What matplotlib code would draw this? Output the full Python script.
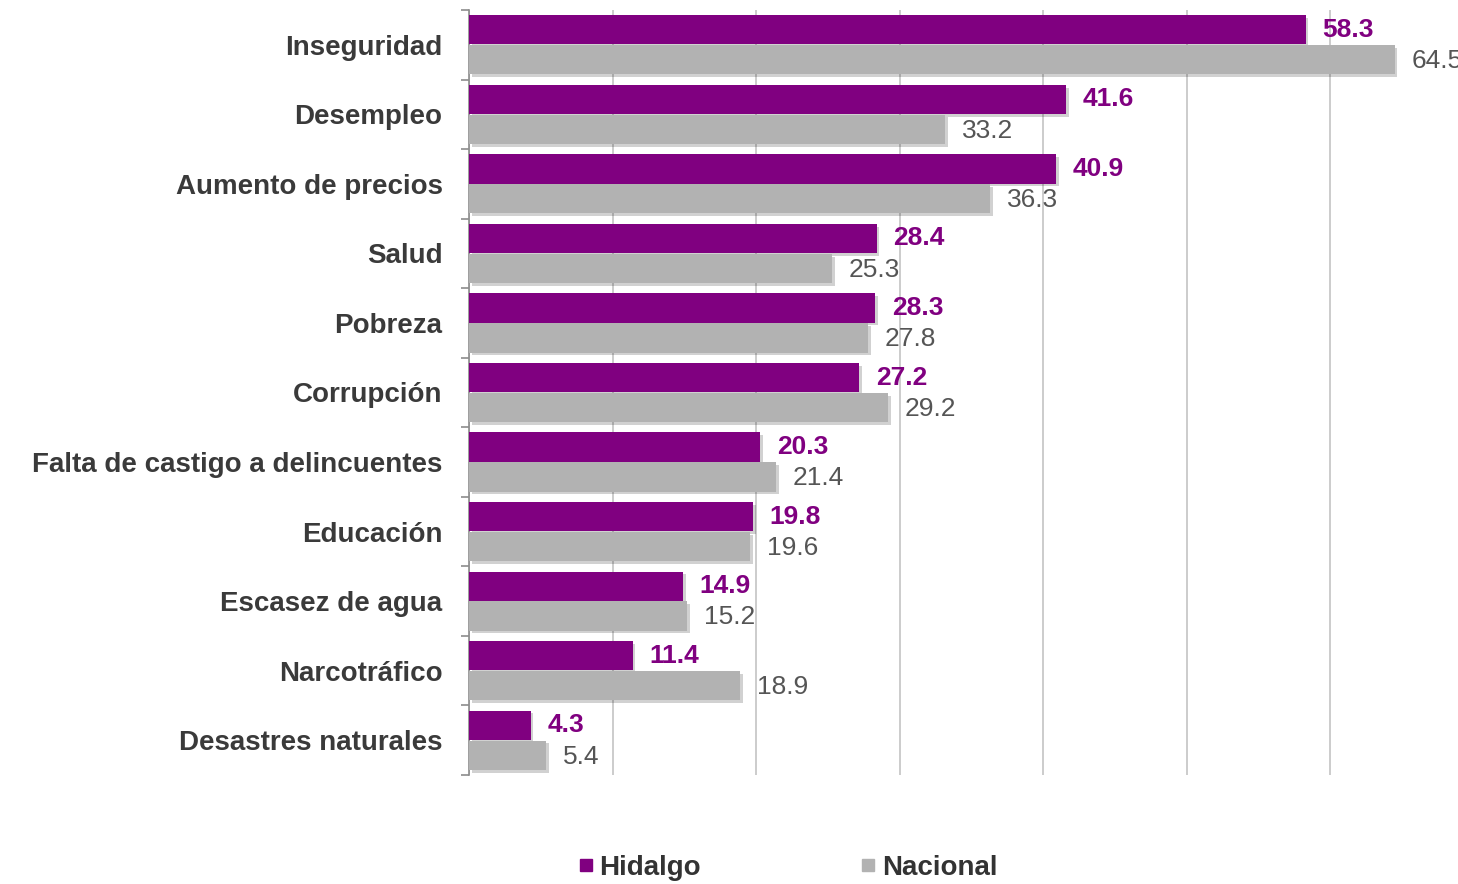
import numpy as np
import matplotlib
matplotlib.use('Agg')
import matplotlib.pyplot as plt
import matplotlib.patheffects as pe
from matplotlib.lines import Line2D

plt.rcParams['font.family'] = ['Liberation Sans', 'DejaVu Sans']

#categories, top to bottom
categorias = ['Inseguridad', 'Desempleo', 'Aumento de precios', 'Salud', 'Pobreza',
              'Corrupción', 'Falta de castigo a delincuentes', 'Educación',
              'Escasez de agua', 'Narcotráfico', 'Desastres naturales']
hidalgo = [58.3, 41.6, 40.9, 28.4, 28.3, 27.2, 20.3, 19.8, 14.9, 11.4, 4.3]
nacional = [64.5, 33.2, 36.3, 25.3, 27.8, 29.2, 21.4, 19.6, 15.2, 18.9, 5.4]
series = ['Hidalgo', 'Nacional']

morado = '#800080'
gris = '#b2b2b2'

fig = plt.figure(figsize=(14.58, 8.84), dpi=100)
#axes runs past the right edge of the figure, like the original crop
ax = fig.add_axes([469/1458, 109/884, 70*14.35/1458, 765/884])

y = np.arange(len(categorias))
h = 0.42
off = 0.215
sombra = [pe.SimplePatchShadow(offset=(2, -2), shadow_rgbFace='#000000', alpha=0.18), pe.Normal()]

b1 = ax.barh(y - off, hidalgo, height=h, color=morado, zorder=3)
b2 = ax.barh(y + off, nacional, height=h, color=gris, zorder=3)
for b in list(b1) + list(b2):
    b.set_path_effects(sombra)

#value labels
for yi, v in zip(y, hidalgo):
    ax.annotate(f'{v:.1f}', (v, yi - off), xytext=(12, 0), textcoords='offset points',
                va='center', ha='left', fontsize=19, fontweight='bold', color=morado, zorder=5)
for yi, v in zip(y, nacional):
    ax.annotate(f'{v:.1f}', (v, yi + off), xytext=(12, -1), textcoords='offset points',
                va='center', ha='left', fontsize=19, color='#555555', zorder=5)

ax.set_xlim(0, 70)
ax.set_ylim(len(categorias) - 0.5, -0.5)
ax.set_xticks(np.arange(0, 71, 10))
ax.set_xticklabels([])
ax.tick_params(axis='x', length=0)
ax.grid(axis='x', color='#c4c4c4', linewidth=1.2, zorder=0)

#tick marks on boundaries, labels at centres
ax.set_yticks(np.arange(-0.5, len(categorias), 1.0))
ax.set_yticklabels([])
ax.tick_params(axis='y', which='major', length=6, width=1.2, color='#8c8c8c')
ax.set_yticks(y, minor=True)
ax.set_yticklabels(categorias, minor=True, fontsize=20, fontweight='bold', color='#3a3a3a')
ax.tick_params(axis='y', which='minor', length=0, pad=19)

for s in ['top', 'right', 'bottom']:
    ax.spines[s].set_visible(False)
ax.spines['left'].set_color('#8c8c8c')
ax.spines['left'].set_linewidth(1.2)

handles = [Line2D([], [], marker='s', linestyle='none', markersize=8, color=morado),
           Line2D([], [], marker='s', linestyle='none', markersize=8, color=gris)]
fig.legend(handles, series, loc='center', bbox_to_anchor=(0.539, 0.018), ncol=2,
           frameon=False, fontsize=20, prop={'weight': 'bold', 'size': 20},
           labelcolor='#333333', columnspacing=5.6, handletextpad=0.1, handlelength=0.8)

plt.savefig('out.png', dpi=100)
